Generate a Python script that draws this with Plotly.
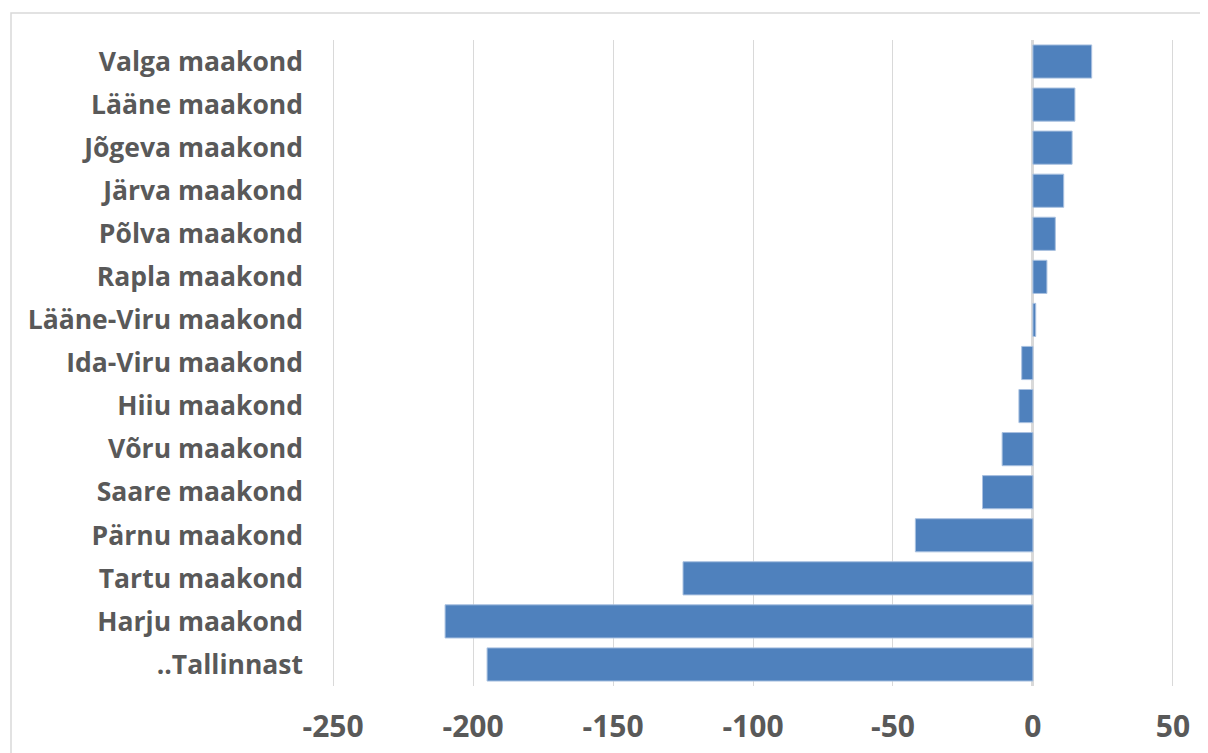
import plotly.graph_objects as go

categories = ["Valga maakond", "Lääne maakond", "Jõgeva maakond", "Järva maakond",
              "Põlva maakond", "Rapla maakond", "Lääne-Viru maakond", "Ida-Viru maakond",
              "Hiiu maakond", "Võru maakond", "Saare maakond", "Pärnu maakond",
              "Tartu maakond", "Harju maakond", "..Tallinnast"]
values = [21, 15, 14, 11, 8, 5, 1, -4, -5, -11, -18, -42, -125, -210, -195]
x_ticks = [-250, -200, -150, -100, -50, 0, 50]

OFF = 8  # default page body margin
W, H = 1208 - OFF, 753 - OFF
L, R, T, B = 332 - OFF, 34, 40 - OFF, 67
pw, ph = W - L - R, H - T - B

fig = go.Figure(go.Bar(
    x=values, y=categories, orientation="h",
    marker=dict(color="#4f81bd", line=dict(color="#a9c1e0", width=1)),
))

font = "'Open Sans', 'DejaVu Sans', sans-serif"
fig.update_layout(
    width=W, height=H,
    margin=dict(l=L, r=R, t=T, b=B, autoexpand=False),
    paper_bgcolor="white", plot_bgcolor="white",
    bargap=0.23,
    showlegend=False,
    xaxis=dict(range=[-250.4, 50.4], tickvals=x_ticks, ticktext=[f"<b>{v}</b>" for v in x_ticks],
               showgrid=True, gridcolor="#d9d9d9", gridwidth=1,
               zeroline=True, zerolinecolor="#d9d9d9", zerolinewidth=2.5,
               showline=False, ticks="", ticklabelstandoff=20, automargin=False,
               tickfont=dict(family=font, size=30, color="#595959")),
    yaxis=dict(categoryorder="array", categoryarray=categories[::-1],
               tickvals=categories, ticktext=[f"<b>{c}</b>" for c in categories],
               showgrid=False, zeroline=False, showline=False, ticks="",
               ticklabelstandoff=28, automargin=False,
               tickfont=dict(family=font, size=26.5, color="#595959")),
    shapes=[dict(type="rect", xref="paper", yref="paper",
                 x0=(11 - OFF - L) / pw, x1=(W + 20 - L) / pw,
                 y0=-(H + 20 - T - ph) / ph, y1=(H - (13 - OFF) - B) / ph,
                 line=dict(color="#d9d9d9", width=1.5), fillcolor="rgba(0,0,0,0)", layer="below")],
)

fig.write_html("out.html")
